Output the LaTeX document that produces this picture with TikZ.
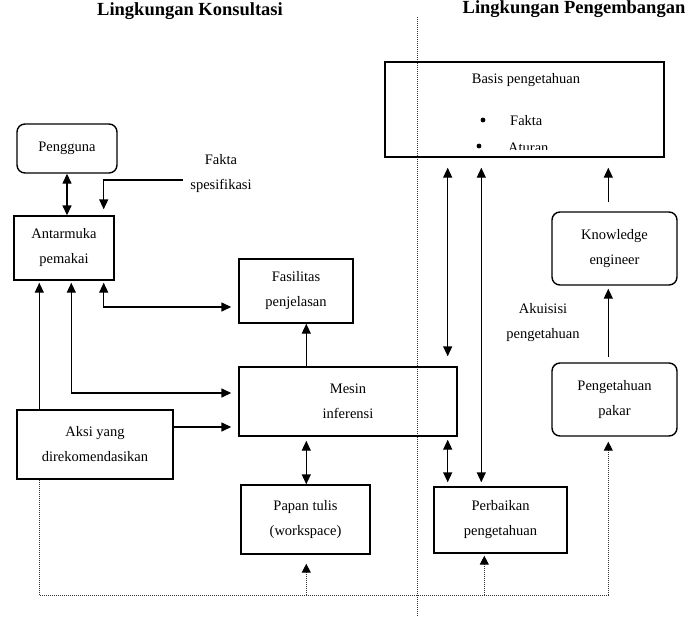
\documentclass[tikz,border=0pt]{standalone}
\usepackage{fontspec}
\setmainfont{Liberation Serif}
\usetikzlibrary{arrows.meta,calc}
\begin{document}
\begin{tikzpicture}[x=1pt,y=-1pt,
  txt/.style={inner sep=0pt, align=center, font=\fontsize{14.5}{25}\selectfont},
  box/.style={txt, draw, line width=1.4pt},
  rbox/.style={box, rounded corners=8pt},
  arr/.style={line width=1.4pt, -{Triangle[length=10pt,width=9pt]}},
  darr/.style={line width=1.4pt, {Triangle[length=10pt,width=9pt]}-{Triangle[length=10pt,width=9pt]}},
  dot/.style={line width=1pt, densely dotted, draw=black!80},
  darrow/.style={dot, -{Triangle[length=9pt,width=9pt,color=black]}},
  title/.style={inner sep=0pt, font=\fontsize{18.5}{22}\selectfont\bfseries}
]
\useasboundingbox (0,0) rectangle (690,616);

% titles
\node[title] (t1) at (190,11) {Lingkungan Konsultasi};
\node[title] (t2) at (574,9) {Lingkungan Pengembangan};

% separator
\draw[dot] (417,17) -- (417,616);

% boxes
\node[rbox, minimum width=100pt, minimum height=49pt] (peng) at (67,148.5) {Pengguna};
\node[box, minimum width=100pt, minimum height=64pt] (ant) at (64,248) {Antarmuka\\pemakai};
\node[box, minimum width=114pt, minimum height=64pt] (fas) at (296,291) {Fasilitas\\penjelasan};
\node[box, minimum width=218pt, minimum height=69pt] (mesin) at (348,401.5) {Mesin\\inferensi};
\node[box, minimum width=156pt, minimum height=69pt] (aksi) at (95,444.5) {Aksi yang\\direkomendasikan};
\node[box, minimum width=129pt, minimum height=69pt] (papan) at (305.5,519.5) {Papan tulis\\(workspace)};
\node[box, minimum width=133pt, minimum height=66pt] (perb) at (500.5,520) {Perbaikan\\pengetahuan};
\node[box, minimum width=279pt, minimum height=95pt] (basis) at (524.5,109.5) {};
\node[rbox, minimum width=125pt, minimum height=73pt] (ke) at (614.5,248.5) {Knowledge\\engineer};
\node[rbox, minimum width=125pt, minimum height=73pt] (pp) at (614.5,399.5) {Pengetahuan\\pakar};

% texts
\node[txt] (bt) at (526,80) {Basis pengetahuan};
\node[txt, anchor=base west] (fk) at (510,125) {Fakta};
\fill (483,120) circle (2.4pt);
\begin{scope}
  \clip (386,130) rectangle (663,149.5);
  \node[txt, anchor=base west] (at) at (508,152) {Aturan};
\end{scope}
\fill (479,146) circle (2.4pt);
\node[txt] (fs) at (221,174) {Fakta\\spesifikasi};
\node[txt] (ak) at (543,322.5) {Akuisisi\\pengetahuan};

% helper coordinates
\coordinate (fs0) at ($(fs.west)+(-7,6)$);
\coordinate (a3) at ($(ant.south east)+(-11,0)$);
\coordinate (b1) at ($(ant.south west)+(58,0)$);
\coordinate (c1) at ($(aksi.north west)+(23,0)$);
\coordinate (d1) at ($(aksi.east)+(0,-17.5)$);
\coordinate (e1) at ($(fas.south west)+(68,0)$);
\coordinate (f1) at ($(mesin.north east)+(-10,0)$);
\coordinate (g1) at ($(perb.north west)+(48,0)$);
\coordinate (h1) at ($(ke.north west)+(57,0)$);
\coordinate (k0) at ($(aksi.south west)+(23,0)$);
\coordinate (p1) at ($(perb.south west)+(51,0)$);
\coordinate (bot) at (0,595);

% left side connectors
\draw[darr] (peng.south) -- (peng.south |- ant.north);
\draw[arr, shorten >=6pt] (fs0) -| (a3 |- ant.north);
\draw[darr, shorten <=2pt, shorten >=7pt] (a3 |- ant.south) |- ($(fas.west)+(0,16)$);
\draw[darr, shorten <=2pt, shorten >=7pt] (b1) |- ($(mesin.west)+(0,-8.5)$);
\draw[arr, shorten >=2pt] (c1) -- (c1 |- ant.south);
\draw[arr, shorten >=7pt] (d1) -- (d1 -| mesin.west);
\draw[arr] (e1 |- mesin.north) -- (e1);
\draw[darr, shorten <=4pt] (e1 |- mesin.south) -- (e1 |- papan.north);

% right side connectors
\draw[darr, shorten <=10pt, shorten >=10pt] (f1 |- basis.south) -- (f1);
\draw[darr, shorten <=3pt, shorten >=4pt] (f1 |- mesin.south) -- (f1 |- perb.north);
\draw[darr, shorten <=10pt, shorten >=4pt] (g1 |- basis.south) -- (g1);
\draw[arr, shorten <=9pt, shorten >=10pt] (h1) -- (h1 |- basis.south);
\draw[arr, shorten <=5pt, shorten >=3pt] (h1 |- pp.north) -- (h1 |- ke.south);

% dotted feedback
\draw[dot] (k0) -- (k0 |- bot) -- (h1 |- bot);
\draw[darrow, shorten >=9pt] (e1 |- bot) -- (e1 |- papan.south);
\draw[darrow, shorten >=2pt] (p1 |- bot) -- (p1);
\draw[darrow, shorten >=5pt] (h1 |- bot) -- (h1 |- pp.south);
\end{tikzpicture}
\end{document}
